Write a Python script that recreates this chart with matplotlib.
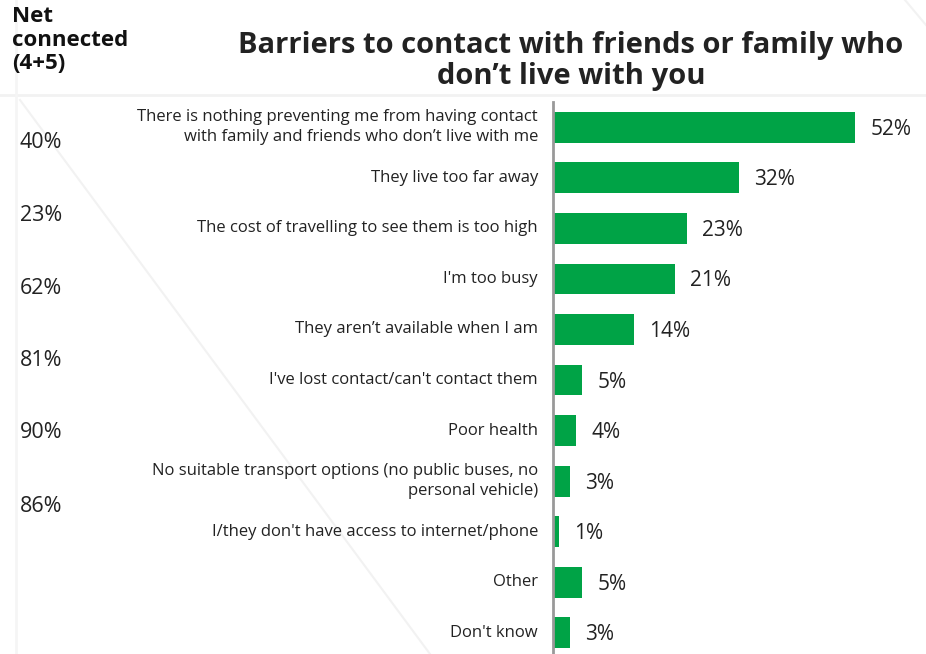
import matplotlib.pyplot as plt

# Chart data
categories = [
    "There is nothing preventing me from having contact\nwith family and friends who don\u2019t live with me",
    "They live too far away",
    "The cost of travelling to see them is too high",
    "I'm too busy",
    "They aren\u2019t available when I am",
    "I've lost contact/can't contact them",
    "Poor health",
    "No suitable transport options (no public buses, no\npersonal vehicle)",
    "I/they don't have access to internet/phone",
    "Other",
    "Don't know",
]
values = [52, 32, 23, 21, 14, 5, 4, 3, 1, 5, 3]
net_connected = ["40%", "23%", "62%", "81%", "90%", "86%"]

title = "Barriers to contact with friends or family who\ndon\u2019t live with you"
side_header = "Net\nconnected\n(4+5)"

green = "#00A346"
text_col = "#222222"
W, H = 926, 654

plt.rcParams['font.family'] = ['Open Sans', 'DejaVu Sans']

fig = plt.figure(figsize=(W / 100, H / 100), dpi=100)
fig.patch.set_facecolor("white")

# faint background decoration
deco = fig.add_axes([0, 0, 1, 1])
deco.set_xlim(0, W)
deco.set_ylim(H, 0)
deco.axis("off")
deco.plot([0, W], [95, 95], color="#f2f2f2", lw=2)
deco.plot([16, 16], [0, H], color="#f5f5f5", lw=2)
deco.plot([20, 430], [100, H], color="#f2f2f2", lw=1.5)
deco.plot([905, 926], [0, 25], color="#f2f2f2", lw=1.5)

ax = fig.add_axes([553 / W, 0, 1 - 553 / W, 1 - 102 / H])
ypos = list(range(len(categories)))
ax.barh(ypos, values, height=0.61, color=green)
ax.set_xlim(0, 64.2)
ax.set_ylim(10.42, -0.5)

for y, v in zip(ypos, values):
    ax.text(v + 2.6, y + 0.04, f"{v}%", va="center", ha="left", fontsize=15,
            color=text_col)
    ax.text(-2.6, y, categories[y], va="center", ha="right", fontsize=12,
            color=text_col, linespacing=1.3)

for side in ["top", "right", "bottom"]:
    ax.spines[side].set_visible(False)
ax.spines["left"].set_color("#999999")
ax.spines["left"].set_linewidth(2)
ax.set_xticks([])
ax.set_yticks([])
ax.patch.set_alpha(0)

fig.text(571 / W, 1 - 61 / H, title, ha="center", va="center",
         fontsize=21, fontweight="bold", color=text_col, linespacing=1.13)
fig.text(12 / W, 1 - 40 / H, side_header, ha="left", va="center",
         fontsize=16, fontweight="bold", color="#111111", linespacing=1.16)

net_y = [142, 215, 288, 360, 433, 506]
for y, s in zip(net_y, net_connected):
    fig.text(41 / W, 1 - y / H, s, ha="center", va="center", fontsize=15.5,
             color=text_col)

fig.savefig("out.png", dpi=100, facecolor="white")
